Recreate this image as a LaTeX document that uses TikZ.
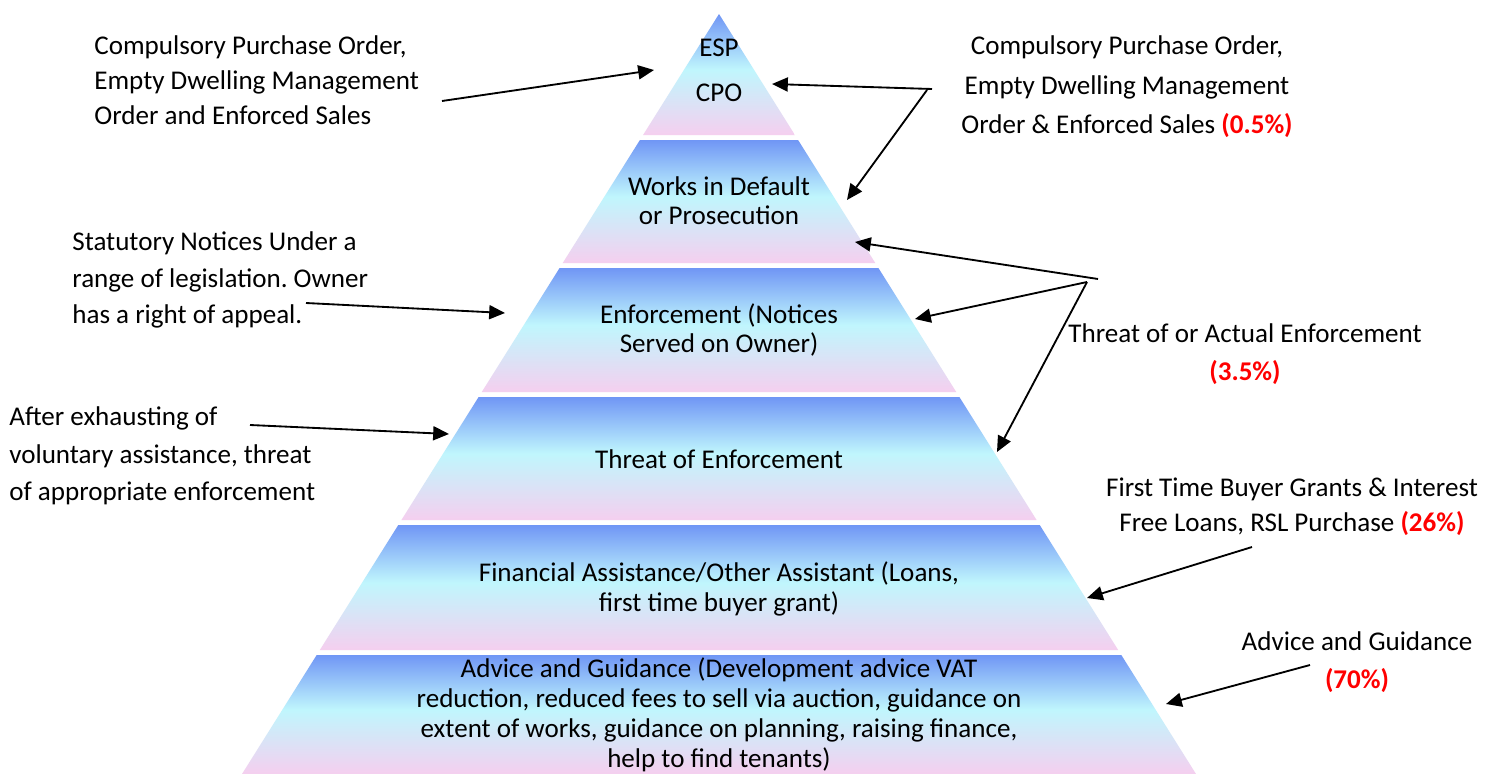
\documentclass[tikz,border=0pt]{standalone}
\usepackage{fontspec}
\setmainfont{Carlito}
\usetikzlibrary{arrows.meta}

\definecolor{bandtop}{RGB}{112,150,245}
\definecolor{bandmid}{RGB}{192,246,253}
\definecolor{bandbot}{RGB}{245,207,239}
\definecolor{pct}{RGB}{255,0,0}

% blue at the top of each tier, pale cyan just above the middle, pink at the foot
\pgfdeclareverticalshading{tiershade}{100bp}{color(0bp)=(bandbot); color(25bp)=(bandbot); color(52bp)=(bandmid); color(75bp)=(bandtop); color(100bp)=(bandtop)}

% one tier of the pyramid between two heights (apex at (719,14), slope 477/760)
\newcommand{\tier}[2]{%
  \shade[shading=tiershade]
    ({719-0.62763*(#1-14)},#1) -- ({719+0.62763*(#1-14)},#1) --
    ({719+0.62763*(#2-14)},#2) -- ({719-0.62763*(#2-14)},#2) -- cycle;}

\newcommand{\pc}[1]{{\bfseries\color{pct}#1}}

\tikzset{
  ptr/.style={-{Triangle[length=9pt,width=8pt]}, line width=1.05pt, black},
  inlabel/.style={inner sep=0pt, align=center, font=\fontsize{15.4pt}{16.6pt}\selectfont},
  sidelabel/.style={inner sep=0pt, font=\fontsize{15.4pt}{21pt}\selectfont},
}

\begin{document}
\frenchspacing
\begin{tikzpicture}[x=0.02cm, y=-0.02cm]
  \useasboundingbox (0,0) rectangle (1491,774);
  \fill[white] (0,0) rectangle (1491,774);

  % pyramid tiers
  \tier{14}{135}
  \tier{140}{263}
  \tier{268}{392}
  \tier{397}{520}
  \tier{525}{650}
  \tier{655}{774}

  % tier texts
  \node[inlabel] (esp) at (719,48) {ESP};
  \node[inlabel] (cpo) at (719,93) {CPO};
  \node[inlabel] (wid) at (719,201) {Works in Default\\or Prosecution};
  \node[inlabel] (enf) at (719,330) {Enforcement (Notices\\Served on Owner)};
  \node[inlabel] (thr) at (719,459) {Threat of Enforcement};
  \node[inlabel] (fin) at (719,589) {Financial Assistance/Other Assistant (Loans,\\first time buyer grant)};
  \node[inlabel, font=\fontsize{15.4pt}{17pt}\selectfont] (adv) at (719,715)
    {Advice and Guidance (Development advice VAT\\reduction, reduced fees to sell via auction, guidance on\\extent of works, guidance on planning, raising finance,\\help to find tenants)};

  % side notes
  \node[sidelabel, anchor=west, align=left, font=\fontsize{15.4pt}{20pt}\selectfont] (tl) at (94,80)
    {Compulsory Purchase Order,\\Empty Dwelling Management\\Order and Enforced Sales};
  \node[sidelabel, align=center, font=\fontsize{15.4pt}{22.4pt}\selectfont] (tr) at (1127,87)
    {Compulsory Purchase Order,\\Empty Dwelling Management\\Order \& Enforced Sales \pc{(0.5\%)}};
  \node[sidelabel, anchor=west, align=left] (stat) at (72,280)
    {Statutory Notices Under a\\range of legislation. Owner\\has a right of appeal.};
  \node[sidelabel, anchor=west, align=left, font=\fontsize{15.4pt}{21.3pt}\selectfont] (exh) at (9,456)
    {After exhausting of\\voluntary assistance, threat\\of appropriate enforcement};
  \node[sidelabel, align=center, font=\fontsize{15.4pt}{22pt}\selectfont] (act) at (1245,354)
    {Threat of or Actual Enforcement\\\pc{(3.5\%)}};
  \node[sidelabel, align=center, font=\fontsize{15.4pt}{20pt}\selectfont] (ftb) at (1292,507)
    {First Time Buyer Grants \& Interest\\Free Loans, RSL Purchase \pc{(26\%)}};
  \node[sidelabel, align=center, font=\fontsize{15.4pt}{21.5pt}\selectfont] (ag) at (1357,662)
    {Advice and Guidance\\\pc{(70\%)}};

  % arrow ends
  \coordinate (tlS) at (442,101);   \coordinate (tlE) at (654,70);
  \coordinate (trA) at (932,89);    \coordinate (trAE) at (772,84);
  \coordinate (trB) at (927,90);    \coordinate (trBE) at (847,200);
  \coordinate (stS) at (306,303);   \coordinate (stE) at (505,313);
  \coordinate (exS) at (250,425);   \coordinate (exE) at (449,434);
  \coordinate (thA) at (1098,279);  \coordinate (thAE) at (855,242);
  \coordinate (thB) at (1087,282);  \coordinate (thBE) at (915,319);
  \coordinate (thCE) at (997,452);
  \coordinate (ftS) at (1252,547);  \coordinate (ftE) at (1087,598);
  \coordinate (agS) at (1310,665);  \coordinate (agE) at (1166,704);

  % arrows
  \draw[ptr] (tlS) -- (tlE);
  \draw[ptr] (trA) -- (trAE);
  \draw[ptr] (trB) -- (trBE);
  \draw[ptr] (stS) -- (stE);
  \draw[ptr] (exS) -- (exE);
  \draw[ptr] (thA) -- (thAE);
  \draw[ptr] (thB) -- (thBE);
  \draw[ptr] (thB) -- (thCE);
  \draw[ptr] (ftS) -- (ftE);
  \draw[ptr] (agS) -- (agE);
\end{tikzpicture}
\end{document}
